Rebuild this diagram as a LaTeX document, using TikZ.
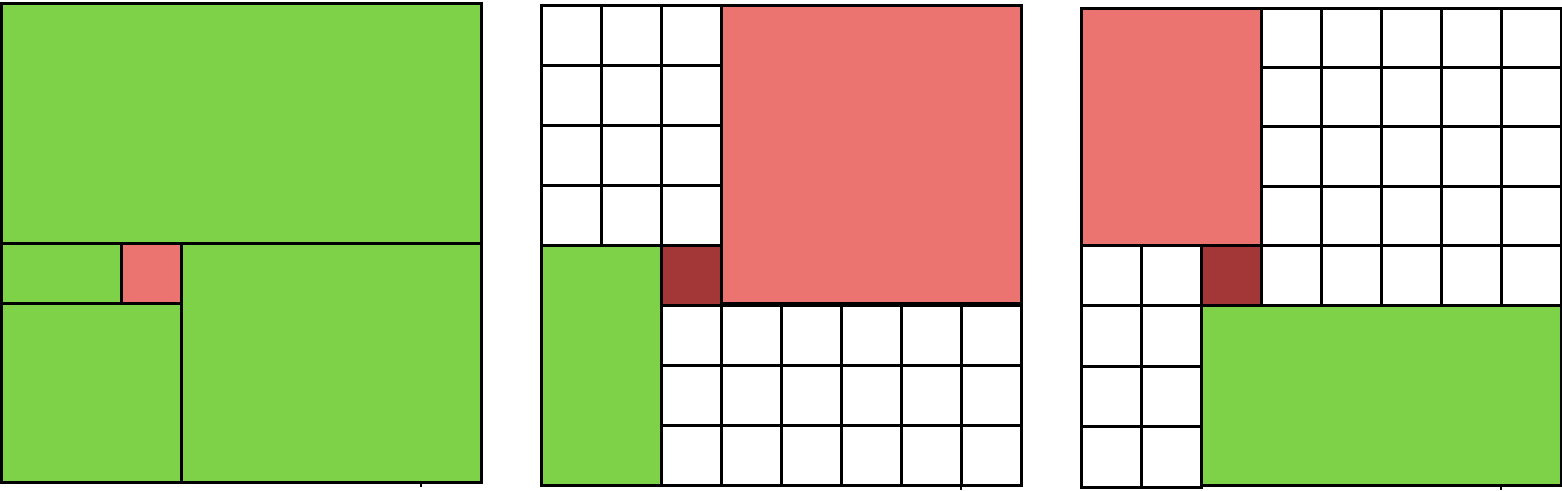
\documentclass[tikz,border=0pt]{standalone}
\definecolor{gr}{RGB}{126,210,72}
\definecolor{rd}{RGB}{236,116,112}
\definecolor{dr}{RGB}{163,54,54}
\tikzset{
  cell/.style={draw=black, line width=3pt},
  gline/.style={draw=black, line width=3pt},
  tick/.style={draw=black, line width=2pt}
}
\begin{document}
\begin{tikzpicture}[x=1pt,y=-1pt]
\useasboundingbox[fill=white] (0,0) rectangle (1562,490);
% ---------- Panel 1 ----------
\fill[gr] (1,3) rectangle (481,483);
\draw[cell, fill=rd] (121,243) rectangle (181,303);
\draw[gline] (1,243) -- (481,243);
\draw[gline] (1,303) -- (181,303);
\draw[gline] (181,243) -- (181,482);
\draw[cell] (1,3) rectangle (481,482);
\draw[tick] (421,482) -- (421,487);
% ---------- Panel 2 ----------
\foreach \i in {0,1,2} \foreach \j in {0,...,3}
  \draw[cell] ({541+60*\i},{5+60*\j}) rectangle ++(60,60);
\foreach \i in {0,...,5} \foreach \j in {0,1,2}
  \draw[cell] ({661+60*\i},{305+60*\j}) rectangle ++(60,60);
\draw[cell, fill=rd] (721,5) rectangle (1021,303);
\draw[cell, fill=gr] (541,245) rectangle (661,485);
\draw[cell, fill=dr] (661,245) rectangle (721,305);
\draw[tick] (961,485) -- (961,490);
% ---------- Panel 3 ----------
\foreach \i in {0,...,4} \foreach \j in {0,...,4}
  \draw[cell] ({1261+60*\i},{8+59.4*\j}) rectangle ++(60,59.4);
\foreach \i in {0,1} \foreach \j in {0,...,3}
  \draw[cell] ({1081+60*\i},{245+60.5*\j}) rectangle ++(60,60.5);
\draw[cell, fill=rd] (1081,8) rectangle (1261,245);
\draw[cell, fill=gr] (1201,305) rectangle (1561,485);
\draw[cell, fill=dr] (1201,245) rectangle (1261,305);
\draw[tick] (1501,486) -- (1501,490);
\end{tikzpicture}
\end{document}
